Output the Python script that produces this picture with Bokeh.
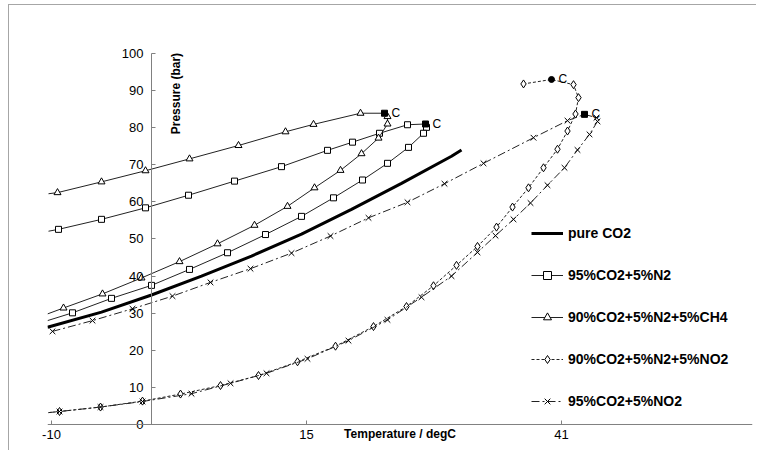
import math
from bokeh.plotting import figure
from bokeh.models import (ColumnDataSource, CDSView, IndexFilter, FixedTicker,
                          Label, Legend, LegendItem, LinearAxis, Span)
from bokeh.embed import file_html
from bokeh.resources import INLINE
from bokeh.core.properties import value

# ---------------- data ----------------
x_ticks = [-10, 15.5, 41]
x_tick_labels = ["-10", "15", "41"]
y_ticks = [0, 10, 20, 30, 40, 50, 60, 70, 80, 90, 100]

pure_T = [-10.4, -5.0, 0.0, 5.0, 10.0, 15.0, 20.0, 25.0, 30.0, 31.0]
pure_P = [26.2, 30.3, 34.9, 40.0, 45.4, 51.3, 58.0, 65.0, 72.3, 74.0]

n2_T = [-10.3, -9.3, -5.0, -0.6, 3.7, 8.3, 13.0, 17.6, 20.1, 22.8, 25.6, 27.4,
        27.5, 27.2, 25.7, 23.6, 21.1, 18.2, 15.0, 11.4, 7.6, 3.8, 0.0, -4.0, -7.9, -10.4]
n2_P = [52.1, 52.6, 55.3, 58.4, 61.8, 65.6, 69.5, 73.9, 76.1, 78.5, 80.8, 81.0,
        80.1, 78.5, 74.7, 70.4, 65.9, 61.1, 56.1, 51.2, 46.3, 41.8, 37.5, 34.0, 30.1, 28.0]
n2_crit = 11
n2_unmarked = [0, 25]

ch4_T = [-10.3, -9.4, -5.0, -0.6, 3.8, 8.7, 13.4, 16.2, 20.9, 23.3, 23.6, 23.6,
         22.7, 21.0, 18.9, 16.3, 13.6, 10.3, 6.6, 2.8, -1.0, -4.9, -8.8, -10.4]
ch4_P = [62.2, 62.5, 65.4, 68.4, 71.6, 75.2, 78.9, 80.9, 83.9, 83.9, 83.0, 81.0,
         77.2, 73.0, 68.5, 63.8, 58.8, 53.7, 48.7, 43.9, 39.5, 35.2, 31.4, 29.8]
ch4_crit = 9
ch4_unmarked = [0, 23]

n2no2_T = [-10.3, -9.2, -5.1, -0.9, 2.9, 6.9, 10.7, 14.6, 18.4, 22.2, 25.5, 28.2,
           30.5, 32.6, 34.5, 36.1, 37.7, 39.2, 40.6, 41.6, 42.4, 42.7, 42.2, 40.0, 37.2]
n2no2_P = [3.2, 3.5, 4.7, 6.3, 8.2, 10.5, 13.2, 16.9, 21.1, 26.4, 31.8, 37.4,
           42.9, 48.0, 53.2, 58.6, 63.8, 69.2, 74.2, 79.1, 83.7, 88.1, 91.6, 93.0, 91.8]
n2no2_crit = 23
n2no2_unmarked = [0]

no2_T = [-9.9, -5.9, -1.9, 2.1, 5.9, 9.9, 14.0, 17.9, 21.7, 25.6, 29.3, 33.2, 38.2,
         41.6, 43.3, 44.5, 44.6, 43.8, 42.6, 41.3, 39.6, 37.9, 36.2, 34.4, 32.6, 30.0,
         27.0, 23.6, 19.7, 15.6, 11.5, 7.9, 4.0, -0.9, -5.1, -9.2, -10.3]
no2_P = [25.1, 28.0, 31.2, 34.6, 38.3, 42.0, 46.2, 50.8, 55.7, 59.9, 64.9, 70.4, 77.3,
         81.9, 83.6, 82.7, 81.7, 78.2, 74.0, 69.2, 64.5, 59.7, 55.3, 50.9, 46.4, 40.0,
         34.3, 28.2, 22.6, 17.7, 13.8, 11.1, 8.3, 6.2, 4.7, 3.5, 3.2]
no2_crit = 14
no2_unmarked = [36]

series_names = ["pure CO2", "95%CO2+5%N2", "90%CO2+5%N2+5%CH4",
                "90%CO2+5%N2+5%NO2", "95%CO2+5%NO2"]
crit_label = "C"
x_title = "Temperature / degC"
y_title = "Pressure (bar)"

# ---------------- figure ----------------
FONT = "Liberation Sans"
AX_C = "#808080"
p = figure(width=748, height=446, x_range=(-10.4, 60.1), y_range=(-1.62, 112.94),
           output_backend="svg", toolbar_location=None,
           x_axis_type=None, y_axis_type=None,
           min_border_left=38, min_border_right=5, min_border_top=0, min_border_bottom=21)
p.outline_line_color = None
p.background_fill_color = "white"
p.styles = {"margin-left": "8px", "margin-top": "4px",
            "border-left": "1px solid #a6a6a6", "border-top": "1px solid #a6a6a6"}

xaxis = LinearAxis(ticker=FixedTicker(ticks=x_ticks),
                   major_label_overrides=dict(zip(x_ticks, x_tick_labels)),
                   axis_label=x_title)
yaxis = LinearAxis(ticker=FixedTicker(ticks=y_ticks), bounds=(0, 100), fixed_location=0)
for ax in (xaxis, yaxis):
    ax.axis_line_color = AX_C
    ax.major_tick_line_color = AX_C
    ax.minor_tick_line_color = None
    ax.major_label_text_font = FONT
    ax.major_label_text_font_size = "13px"
    ax.major_label_text_color = "black"
yaxis.major_tick_in = 4
yaxis.major_tick_out = 0
yaxis.major_label_standoff = 8
# x axis sits in the bottom panel; its rule is drawn at P = 0 by a span
xaxis.axis_line_color = None
xaxis.major_tick_in = 10
xaxis.major_tick_out = -6
xaxis.major_label_standoff = -1
xaxis.axis_label_standoff = -15
xaxis.axis_label_text_font = FONT
xaxis.axis_label_text_font_style = "bold"
xaxis.axis_label_text_font_size = "12px"
xaxis.axis_label_text_color = "black"
p.add_layout(xaxis, "below")
p.add_layout(yaxis, "left")
p.add_layout(Span(location=0, dimension="width", line_color=AX_C, line_width=1))

LINE_C = "#222222"
items = []

r_pure = p.line(pure_T, pure_P, line_color="black", line_width=3)
items.append(LegendItem(label=series_names[0], renderers=[r_pure]))

specs = [
    (n2_T, n2_P, n2_crit, n2_unmarked, "square", 6, "solid", "square"),
    (ch4_T, ch4_P, ch4_crit, ch4_unmarked, "triangle", 7, "solid", "square"),
    (n2no2_T, n2no2_P, n2no2_crit, n2no2_unmarked, "diamond", 8, "3 2", "circle"),
    (no2_T, no2_P, no2_crit, no2_unmarked, "x", 8, "8 3 2 3", "square"),
]
crit_T, crit_P, crit_m = [], [], []
for k, (T, P, ci, unm, mk, ms, dash, cm) in enumerate(specs):
    src = ColumnDataSource(data=dict(T=T, P=P))
    rl = p.line("T", "P", source=src, line_color=LINE_C, line_width=1, line_dash=dash)
    keep = [i for i in range(len(T)) if i not in unm and i != ci]
    rs = p.scatter("T", "P", source=src, view=CDSView(filter=IndexFilter(keep)),
                   marker=mk, size=ms, line_color="black", line_width=1,
                   fill_color="white")
    items.append(LegendItem(label=series_names[k + 1], renderers=[rl, rs]))
    crit_T.append(T[ci]); crit_P.append(P[ci]); crit_m.append(cm)

csrc = ColumnDataSource(data=dict(T=crit_T, P=crit_P, m=crit_m,
                                  t=[crit_label] * len(crit_T)))
p.scatter("T", "P", source=csrc, marker="m", size=6, fill_color="black", line_color="black")
p.text("T", "P", text="t", source=csrc, x_offset=7, text_baseline="middle",
       text_align="left", text_font=value(FONT), text_font_size="12px", text_color="black")

legend = Legend(items=items, location=(484, 19), orientation="vertical",
                border_line_color=None, background_fill_alpha=0, padding=0, margin=0,
                spacing=22, glyph_width=32, glyph_height=20, label_height=20,
                label_standoff=5, label_text_font=FONT, label_text_font_style="bold",
                label_text_font_size="14px", label_text_color="black")
p.add_layout(legend)

p.add_layout(Label(x=2.4, y=89.2, text=y_title, angle=math.pi / 2,
                   text_align="center", text_baseline="middle", text_font=FONT,
                   text_font_style="bold", text_font_size="12px", text_color="black"))

open("out.html", "w").write(file_html(p, INLINE))
